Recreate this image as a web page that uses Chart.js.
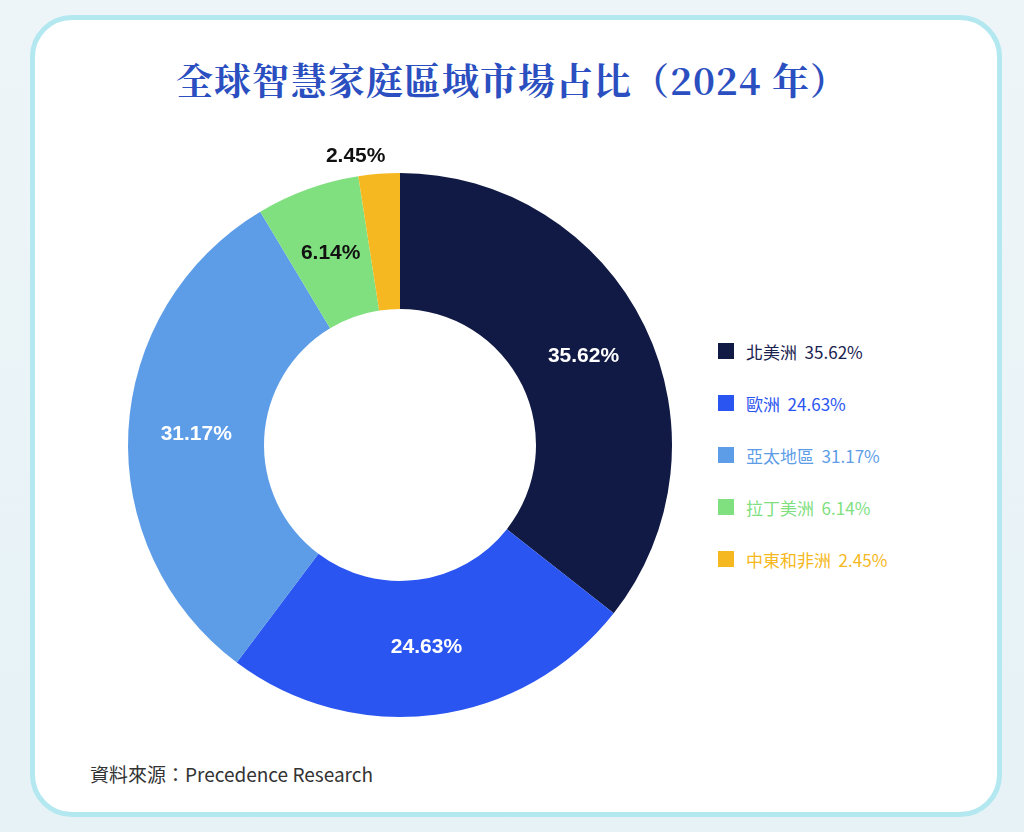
<!DOCTYPE html>
<html><head><meta charset="utf-8">
<script src="https://cdn.jsdelivr.net/npm/chart.js@4"></script>
<style>
body{margin:0;width:1024px;height:832px;background:linear-gradient(#eef5f8,#e6f2f6);font-family:"Noto Sans CJK TC","Noto Sans",sans-serif;position:relative;overflow:hidden}
#card{position:absolute;left:30px;top:15px;width:962px;height:792px;border:5px solid #b4e8f0;border-radius:42px;background:#fff}
#title{position:absolute;left:0;width:1024px;top:52px;text-align:center;font-family:"Noto Serif CJK TC","Noto Sans CJK TC",serif;font-weight:bold;font-size:37px;color:#2b4fc0;letter-spacing:1px}
#wrap{position:absolute;left:100px;top:140px;width:600px;height:610px}
#legend{position:absolute;left:718px;top:325px}
.li{display:flex;align-items:center;height:52px;font-size:17px}
.sq{width:16px;height:16px;margin-right:12px}
#src{position:absolute;left:90px;top:760px;font-size:19px;color:#333}
</style></head><body>
<div id="card"></div>
<div id="title">全球智慧家庭區域市場占比（2024 年）</div>
<div id="wrap"><canvas id="c"></canvas></div>
<div id="legend"></div>
<div id="src">資料來源：Precedence Research</div>
<script>
var regioes = ['北美洲', '歐洲', '亞太地區', '拉丁美洲', '中東和非洲'];
var valores = [35.62, 24.63, 31.17, 6.14, 2.45];
var cores = ['#111a44', '#2b55f0', '#5d9de8', '#80e07f', '#f5b820'];
var coresTexto = ['#fff', '#fff', '#fff', '#111', '#111'];

var leg = document.getElementById('legend');
regioes.forEach(function (r, i) {
  var c = i == 0 ? '#1a2250' : cores[i];
  leg.innerHTML += '<div class="li"><div class="sq" style="background:' + cores[i] + '"></div><span style="color:' + c + '">' + r + '&nbsp; ' + valores[i].toFixed(2) + '%</span></div>';
});

var rotulos = {
  id: 'rotulos',
  afterDatasetsDraw: function (chart) {
    var ctx = chart.ctx;
    ctx.save();
    ctx.font = 'bold 21px "Liberation Sans", Arial, sans-serif';
    ctx.textAlign = 'center';
    ctx.textBaseline = 'middle';
    chart.getDatasetMeta(0).data.forEach(function (arc, i) {
      var p = arc.tooltipPosition();
      if (i == 4) {
        var a = (arc.startAngle + arc.endAngle) / 2, r = arc.outerRadius + 18;
        p = { x: arc.x + Math.cos(a) * r - 22, y: arc.y + Math.sin(a) * r };
      }
      ctx.fillStyle = coresTexto[i];
      ctx.fillText(valores[i].toFixed(2) + '%', p.x, p.y);
    });
    ctx.restore();
  }
};

new Chart(document.getElementById('c'), {
  type: 'doughnut',
  data: { labels: regioes, datasets: [{ data: valores, backgroundColor: cores, borderWidth: 0 }] },
  options: {
    responsive: true, maintainAspectRatio: false, animation: false, cutout: '50%',
    layout: { padding: { left: 28, right: 28, top: 33, bottom: 33 } },
    plugins: { legend: { display: false }, tooltip: { enabled: false } }
  },
  plugins: [rotulos]
});
</script>
</body></html>
